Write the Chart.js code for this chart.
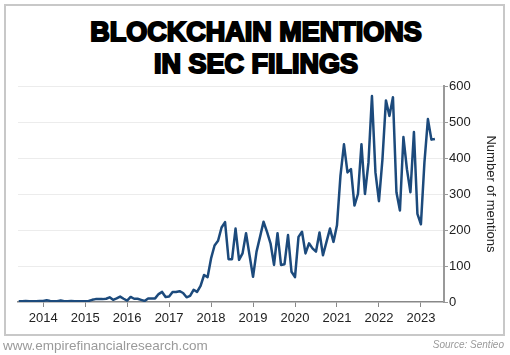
<!DOCTYPE html>
<html>
<head>
<meta charset="UTF-8" />
<title>Blockchain mentions in SEC filings</title>
<script src="https://cdn.jsdelivr.net/npm/chart.js"></script>
<style>
  html, body { margin: 0; padding: 0; background: #fff; }
  body { width: 510px; height: 355px; position: relative; overflow: hidden; font-family: "Liberation Sans", Arial, sans-serif; }
  #frame { position: absolute; left: 4px; top: 4px; width: 497px; height: 328px; border: 2px solid #c8c8c8; }
  .title { position: absolute; left: 1px; width: 510px; text-align: center; font-size: 27px; line-height: 32px; font-weight: bold; color: #000; -webkit-text-stroke: 2px #000; }
  #chart { position: absolute; left: 0; top: 0; }
  #site { position: absolute; left: 3px; top: 338px; font-size: 13.5px; line-height: 15px; color: #9a9a9a; }
  #source { position: absolute; right: 6px; top: 339px; font-size: 10px; line-height: 12px; font-style: italic; color: #9a9a9a; }
</style>
</head>
<body>
<div id="frame"></div>
<div class="title" style="top:16px">BLOCKCHAIN MENTIONS</div>
<div class="title" style="top:48px">IN SEC FILINGS</div>
<canvas id="chart" width="510" height="355"></canvas>
<div id="site">www.empirefinancialresearch.com</div>
<div id="source">Source: Sentieo</div>
<script>
// monthly mentions, first value of 2013 is June
const mentions2013 = [2, 2, 3, 2, 2, 2, 3];
const mentions2014 = [3, 5, 3, 2, 2, 4, 2, 2, 3, 2, 2, 2];
const mentions2015 = [2, 3, 6, 8, 8, 8, 9, 13, 6, 10, 15, 9];
const mentions2016 = [4, 14, 9, 9, 6, 3, 10, 10, 10, 22, 28, 14];
const mentions2017 = [15, 28, 28, 30, 25, 13, 17, 34, 28, 45, 75, 69];
const mentions2018 = [121, 157, 170, 207, 222, 119, 119, 204, 117, 135, 191, 130];
const mentions2019 = [70, 140, 181, 223, 195, 163, 103, 191, 103, 105, 186, 84];
const mentions2020 = [69, 181, 195, 135, 163, 149, 140, 193, 130, 167, 204, 167];
const mentions2021 = [213, 351, 438, 360, 369, 268, 300, 438, 300, 387, 572, 360];
const mentions2022 = [280, 396, 560, 517, 569, 305, 254, 458, 369, 305, 472, 245];
const mentions2023 = [216, 387, 508, 451, 453];

const yearTicks = [2014, 2015, 2016, 2017, 2018, 2019, 2020, 2021, 2022, 2023];

const series = [
  [2013, 5, mentions2013],
  [2014, 0, mentions2014],
  [2015, 0, mentions2015],
  [2016, 0, mentions2016],
  [2017, 0, mentions2017],
  [2018, 0, mentions2018],
  [2019, 0, mentions2019],
  [2020, 0, mentions2020],
  [2021, 0, mentions2021],
  [2022, 0, mentions2022],
  [2023, 0, mentions2023]
];

const points = [];
series.forEach(([year, firstMonth, vals]) => {
  vals.forEach((v, i) => points.push({ x: year + (firstMonth + i) / 12, y: v }));
});

const tickFont = { family: "Liberation Sans, Arial, sans-serif", size: 13 };

new Chart(document.getElementById("chart"), {
  type: "line",
  data: {
    datasets: [{
      data: points,
      borderColor: "#1c4a7c",
      borderWidth: 2.5,
      borderJoinStyle: "round",
      pointRadius: 0,
      tension: 0,
      fill: false
    }]
  },
  options: {
    responsive: false,
    animation: false,
    layout: { padding: { left: 18, top: 86, right: 0, bottom: 0 } },
    plugins: {
      legend: { display: false },
      tooltip: { enabled: false }
    },
    scales: {
      x: {
        type: "linear",
        min: 2013.4,
        max: 2023.55,
        afterBuildTicks: scale => { scale.ticks = yearTicks.map(v => ({ value: v })); },
        afterFit: scale => { scale.height = 53; },
        ticks: {
          autoSkip: false,
          maxRotation: 0,
          padding: 4,
          color: "#222",
          font: tickFont,
          callback: v => String(v)
        },
        grid: { drawOnChartArea: false, tickLength: 5, tickColor: "#888" },
        border: { color: "#888", width: 1.5 }
      },
      y: {
        position: "right",
        min: 0,
        max: 600,
        afterFit: scale => { scale.width = 66; },
        ticks: { stepSize: 100, padding: 1, color: "#222", font: tickFont },
        grid: {
          color: ctx => ctx.tick && ctx.tick.value === 0 ? "rgba(0,0,0,0)" : "#ececec",
          tickLength: 4,
          tickColor: "#999"
        },
        border: { color: "#999", width: 2 },
        title: {
          display: true,
          text: "Number of mentions",
          color: "#222",
          font: tickFont,
          padding: { top: 12, bottom: 0 }
        }
      }
    }
  }
});
</script>
</body>
</html>
